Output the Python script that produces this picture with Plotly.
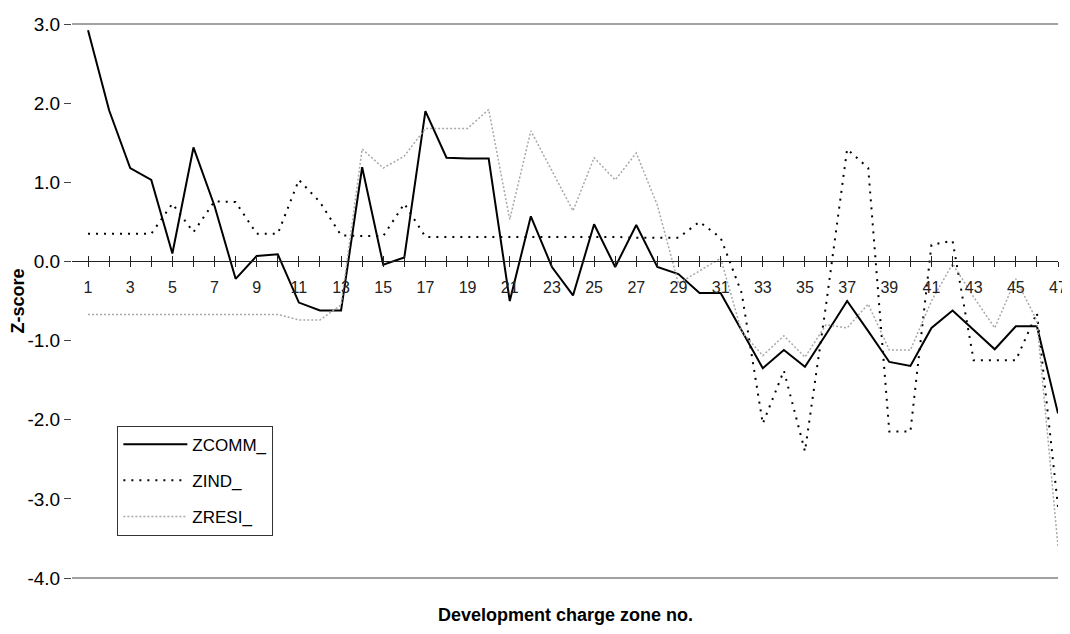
import plotly.graph_objects as go

zones = list(range(1, 48))
tick_labels = [str(z) if z % 2 == 1 else "" for z in zones]
y_ticks = [3.0, 2.0, 1.0, 0.0, -1.0, -2.0, -3.0, -4.0]
y_tick_labels = ["3.0", "2.0", "1.0", "0.0", "-1.0", "-2.0", "-3.0", "-4.0"]

zcomm = [2.92, 1.91, 1.18, 1.03, 0.10, 1.44, 0.70, -0.22, 0.07, 0.09,
         -0.52, -0.62, -0.62, 1.19, -0.04, 0.05, 1.90, 1.31, 1.30, 1.30,
         -0.50, 0.57, -0.07, -0.43, 0.47, -0.07, 0.46, -0.07, -0.16, -0.40,
         -0.40, -0.87, -1.35, -1.12, -1.33, -0.92, -0.50, -0.88, -1.27, -1.32,
         -0.84, -0.62, -0.86, -1.11, -0.82, -0.82, -1.92]
zind = [0.35, 0.35, 0.35, 0.35, 0.73, 0.37, 0.76, 0.75, 0.35, 0.35,
        1.03, 0.75, 0.33, 0.32, 0.32, 0.73, 0.31, 0.31, 0.31, 0.31,
        0.31, 0.31, 0.31, 0.31, 0.31, 0.31, 0.30, 0.30, 0.30, 0.50,
        0.30, -0.40, -2.05, -1.38, -2.40, -0.55, 1.42, 1.18, -2.15, -2.15,
        0.21, 0.26, -1.25, -1.25, -1.25, -0.65, -3.10]
zresi = [-0.67, -0.67, -0.67, -0.67, -0.67, -0.67, -0.67, -0.67, -0.67, -0.67,
         -0.74, -0.74, -0.55, 1.42, 1.18, 1.33, 1.68, 1.68, 1.68, 1.92,
         0.53, 1.65, 1.15, 0.64, 1.31, 1.03, 1.37, 0.71, -0.28, -0.12,
         0.04, -0.89, -1.19, -0.94, -1.21, -0.80, -0.84, -0.54, -1.12, -1.12,
         -0.50, -0.03, -0.45, -0.84, -0.22, -0.75, -3.60]

series = [
    ("ZCOMM_", zcomm, dict(color="black", width=2, dash="solid")),
    ("ZIND_", zind, dict(color="black", width=2, dash="2px,6px")),
    ("ZRESI_", zresi, dict(color="#a8a8a8", width=1.5, dash="2px,2px")),
]

fig = go.Figure()
for name, vals, line in series:
    fig.add_trace(go.Scatter(x=zones, y=vals, name=name, mode="lines",
                             line=line, legendgroup=name, cliponaxis=False))
# helper trace so the overlaid axis (inner ticks) is drawn
fig.add_trace(go.Scatter(x=[], y=[], xaxis="x2", yaxis="y", showlegend=False,
                         hoverinfo="skip"))

ymin, ymax = -4.0, 3.0
zero_pos = (0 - ymin) / (ymax - ymin)
font_main = "Liberation Sans, Arial, sans-serif"
x_range = [0.24, 47.0]

fig.update_layout(
    width=1070, height=634,
    margin=dict(l=64, r=20, t=16, b=64),
    plot_bgcolor="white", paper_bgcolor="white",
    font=dict(family=font_main, color="black"),
    showlegend=True,
    legend=dict(x=0.046, y=0.275, xanchor="left", yanchor="top",
                bordercolor="#333333", borderwidth=1, bgcolor="white",
                itemwidth=64, font=dict(size=17, family=font_main),
                traceorder="grouped", tracegroupgap=11),
    xaxis=dict(range=x_range, anchor="free", position=zero_pos,
               automargin=False,
               showline=True, linecolor="#222222", linewidth=1,
               ticks="outside", ticklen=5, tickcolor="#222222",
               tickvals=zones, ticktext=tick_labels,
               tickfont=dict(size=16, color="#222222"),
               ticklabelstandoff=6,
               showgrid=False, zeroline=False),
    xaxis2=dict(range=x_range, overlaying="x", anchor="free",
                position=zero_pos, showline=False, automargin=False,
                ticks="inside", ticklen=5, tickcolor="#222222",
                tickvals=zones, showticklabels=False,
                showgrid=False, zeroline=False),
    yaxis=dict(range=[ymin, ymax], tickvals=y_ticks, ticktext=y_tick_labels,
               automargin=False,
               ticks="outside", ticklen=7, tickcolor="#444444",
               tickfont=dict(size=19),
               showline=False, showgrid=False, zeroline=False,
               title=dict(text="<b>Z-score</b>", font=dict(size=18),
                          standoff=6)),
)

# plot-area top and bottom borders
for yv in (0, 1):
    fig.add_shape(type="line", xref="paper", yref="paper",
                  x0=0, x1=1.0, y0=yv, y1=yv,
                  line=dict(color="#444444", width=1))

fig.add_annotation(text="<b>Development charge zone no.</b>",
                   xref="paper", yref="paper", x=0.50, y=-0.067,
                   xanchor="center", yanchor="middle", showarrow=False,
                   font=dict(size=18, family=font_main))

fig.write_html("out.html")
